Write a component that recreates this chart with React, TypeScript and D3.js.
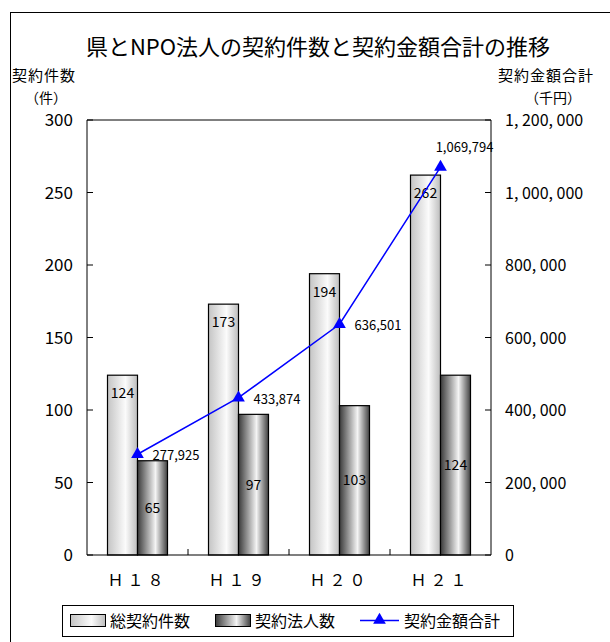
import React from "react";
import * as d3 from "d3";

const categories = ["Ｈ１８", "Ｈ１９", "Ｈ２０", "Ｈ２１"];
const totalContracts = [124, 173, 194, 262];
const corpContracts = [65, 97, 103, 124];
const amounts = [277925, 433874, 636501, 1069794];
const leftTicks = [0, 50, 100, 150, 200, 250, 300];
const rightTicks = [0, 200000, 400000, 600000, 800000, 1000000, 1200000];

const W = 610;
const H = 642;
const m = { left: 87, right: 491, top: 120, bottom: 555 };
const FONT = "'Noto Sans CJK JP', 'Noto Sans', sans-serif";

export default function App() {
  const x = d3.scaleBand<string>().domain(categories).range([m.left, m.right]).paddingInner(0).paddingOuter(0);
  const yL = d3.scaleLinear().domain([0, 300]).range([m.bottom, m.top]);
  const yR = d3.scaleLinear().domain([0, 1200000]).range([m.bottom, m.top]);
  const bw = 30;
  const cx = (c: string) => (x(c) as number) + x.bandwidth() / 2;
  const fmtR = (v: number) => (v === 0 ? "0" : d3.format(",")(v).replace(/,/g, ", "));
  const line = d3
    .line<number>()
    .x((_, i) => cx(categories[i]))
    .y((d) => yR(d));
  const tri = d3.symbol().type(d3.symbolTriangle).size(70);

  return (
    <svg width={W} height={H} style={{ position: "absolute", left: 0, top: 0, display: "block" }} fontFamily={FONT}>
      <defs>
        <linearGradient id="g1" x1="0" x2="1" y1="0" y2="0">
          <stop offset="0" stopColor="#c4c4c4" />
          <stop offset="0.6" stopColor="#fbfbfb" />
          <stop offset="1" stopColor="#bdbdbd" />
        </linearGradient>
        <linearGradient id="g2" x1="0" x2="1" y1="0" y2="0">
          <stop offset="0" stopColor="#3a3a3a" />
          <stop offset="0.6" stopColor="#f4f4f4" />
          <stop offset="1" stopColor="#404040" />
        </linearGradient>
      </defs>
      <rect x={0} y={0} width={W} height={H} fill="#fff" />
      <rect x={10.5} y={12.5} width={W} height={H} fill="none" stroke="#000" strokeWidth={1} />
      <text x={318} y={55} textAnchor="middle" fontSize={22}>県とNPO法人の契約件数と契約金額合計の推移</text>
      <text x={12} y={81} fontSize={15} letterSpacing={1}>契約件数</text>
      <text x={46} y={103} textAnchor="middle" fontSize={14}>（件）</text>
      <text x={498} y={81} fontSize={15} letterSpacing={1}>契約金額合計</text>
      <text x={553} y={103} textAnchor="middle" fontSize={14}>（千円）</text>

      {/* axes */}
      <line x1={m.left} x2={m.left} y1={m.top} y2={m.bottom} stroke="#000" />
      <line x1={m.right} x2={m.right} y1={m.top} y2={m.bottom} stroke="#000" />
      <line x1={m.left} x2={m.right} y1={m.top} y2={m.top} stroke="#000" />
      {leftTicks.map((t) => (
        <g key={"l" + t}>
          <line x1={m.left} x2={m.left + 6} y1={yL(t)} y2={yL(t)} stroke="#000" />
          <text x={73} y={yL(t) + 6} textAnchor="end" fontSize={17}>{t}</text>
        </g>
      ))}
      {rightTicks.map((t) => (
        <g key={"r" + t}>
          <line x1={m.right - 6} x2={m.right} y1={yR(t)} y2={yR(t)} stroke="#000" />
          <text x={505} y={yR(t) + 6} fontSize={16}>{fmtR(t)}</text>
        </g>
      ))}
      {categories.map((c, i) =>
        i > 0 ? (
          <line key={"t" + c} x1={x(c)} x2={x(c)} y1={m.bottom} y2={m.bottom - 6} stroke="#000" />
        ) : null
      )}
      {categories.map((c) => (
        <text key={"c" + c} x={cx(c)} y={586} textAnchor="middle" fontSize={16} letterSpacing={4}>{c}</text>
      ))}

      {/* bars */}
      {categories.map((c, i) => (
        <g key={"b" + c}>
          <rect x={cx(c) - bw} y={yL(totalContracts[i])} width={bw} height={m.bottom - yL(totalContracts[i])} fill="url(#g1)" stroke="#000" strokeWidth={1.2} />
          <rect x={cx(c)} y={yL(corpContracts[i])} width={bw} height={m.bottom - yL(corpContracts[i])} fill="url(#g2)" stroke="#000" strokeWidth={1.2} />
        </g>
      ))}
      <line x1={m.left} x2={m.right} y1={m.bottom} y2={m.bottom} stroke="#000" strokeWidth={1.2} />

      {/* bar labels */}
      {categories.map((c, i) => (
        <g key={"bl" + c} fontSize={14}>
          <text x={cx(c) - bw / 2} y={yL(totalContracts[i]) + 23} textAnchor="middle">{totalContracts[i]}</text>
          <text x={cx(c) + bw / 2} y={(yL(corpContracts[i]) + m.bottom) / 2 + 5} textAnchor="middle">{corpContracts[i]}</text>
        </g>
      ))}

      {/* line */}
      <path d={line(amounts) || ""} fill="none" stroke="#0000ff" strokeWidth={1.5} />
      {amounts.map((v, i) => (
        <path key={"m" + i} d={tri() || ""} transform={`translate(${cx(categories[i])},${yR(v)})`} fill="#0000ff" />
      ))}
      {amounts.map((v, i) => {
        const last = i === amounts.length - 1;
        return (
          <text key={"al" + i} x={last ? cx(categories[i]) + 24 : cx(categories[i]) + 15} y={last ? yR(v) - 15 : yR(v) + 6} textAnchor={last ? "middle" : "start"} fontSize={13}>
            {d3.format(",")(v)}
          </text>
        );
      })}

      {/* legend */}
      <rect x={62.5} y={605.5} width={451} height={31} fill="#fff" stroke="#000" />
      <rect x={70.5} y={614.5} width={35} height={12} fill="url(#g1)" stroke="#000" />
      <text x={110} y={627} fontSize={16}>総契約件数</text>
      <rect x={215.5} y={614.5} width={35} height={12} fill="url(#g2)" stroke="#000" />
      <text x={255} y={627} fontSize={16}>契約法人数</text>
      <line x1={360} x2={399} y1={620.5} y2={620.5} stroke="#0000ff" strokeWidth={1.5} />
      <path d={tri() || ""} transform="translate(379.5,620)" fill="#0000ff" />
      <text x={404} y={627} fontSize={16}>契約金額合計</text>
    </svg>
  );
}
